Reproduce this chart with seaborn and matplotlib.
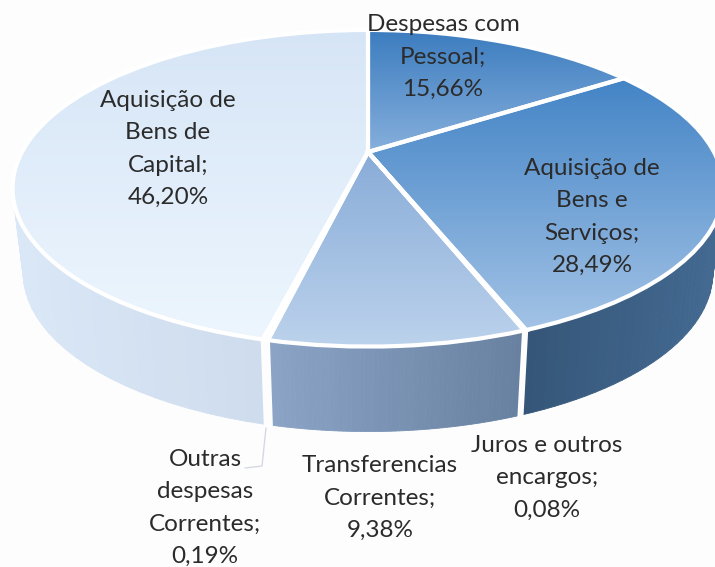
import numpy as np
import matplotlib
matplotlib.use("Agg")
import matplotlib.pyplot as plt
from matplotlib.transforms import Transform
import seaborn as sns

# Dados
categorias = ["Despesas com\nPessoal", "Aquisição de\nBens e\nServiços", "Juros e outros\nencargos",
              "Transferencias\nCorrentes", "Outras\ndespesas\nCorrentes", "Aquisição de\nBens de\nCapital"]
valores = [15.66, 28.49, 0.08, 9.38, 0.19, 46.20]

# Cores: topo (cima, baixo) e parede (esquerda, direita)
cores_topo = [("#3b7cbf", "#86afdc"), ("#4384c6", "#a3c3e6"), ("#9dbde2", "#9dbde2"),
              ("#88acd8", "#bcd2ec"), ("#f0f6fd", "#f0f6fd"), ("#d6e5f6", "#edf6fe")]
cores_parede = [("#3f6a9c", "#3f6a9c"), ("#355678", "#446a92"), ("#fdfdfe", "#fdfdfe"),
                ("#8ba4c6", "#67809f"), ("#fdfdfe", "#fdfdfe"), ("#dae7f7", "#c8d6e8")]
pos_rotulos = [(443, 57), (592, 217), (547, 478), (380, 498), (205, 508), (168, 149)]

# Centro e perspectiva da pizza em pixels
CX, CY, RX, RY, G = 368, 152, 346, 150, 0.229
ALTURA = 85
ESCALA_BASE = 0.97
FUNDO = "#fdfdfe"


class Perspectiva(Transform):
    input_dims = 2
    output_dims = 2

    def transform_non_affine(self, values):
        values = np.asarray(values)
        w = 1 + G * values[:, 1]
        return np.column_stack([CX + RX * values[:, 0] / w, CY - RY * values[:, 1] / w])


def borda(ang):
    u, v = np.cos(ang), np.sin(ang)
    w = 1 + G * v
    return CX + RX * u / w, CY - RY * v / w


sns.set_theme(style="white")
plt.rcParams["font.family"] = ["Lato", "DejaVu Sans"]

fig, ax = plt.subplots(figsize=(7.15, 5.67), dpi=100)
fig.subplots_adjust(0, 0, 1, 1)
fig.patch.set_facecolor(FUNDO)

persp = Perspectiva() + ax.transData

# Parede lateral, fatia a fatia
limites = 90 - 360 * np.concatenate([[0], np.cumsum(valores)]) / 100
for i in range(len(valores)):
    angs = np.radians(np.linspace(limites[i], limites[i + 1], 60))
    xt, yt = borda(angs)
    xb = CX + (xt - CX) * ESCALA_BASE
    yb = yt + ALTURA
    xmin, xmax = xt.min(), xt.max()
    paleta = sns.blend_palette(cores_parede[i], 40)
    for j in range(len(angs) - 1):
        t = ((xt[j] + xt[j + 1]) / 2 - xmin) / max(xmax - xmin, 1)
        cor = paleta[int(t * 39)]
        ax.fill([xt[j], xt[j + 1], xb[j + 1], xb[j]], [yt[j], yt[j + 1], yb[j + 1], yb[j]],
                color=cor, lw=0.6, zorder=1)

# Separadores da parede
for lim in limites[:-1]:
    a = np.radians(lim)
    xt, yt = borda(a)
    if np.sin(a) < 0:
        ax.plot([xt, CX + (xt - CX) * ESCALA_BASE], [yt, yt + ALTURA + 2], color=FUNDO, lw=3, zorder=2)

# Superficie da pizza com gradiente vertical
fatias, _ = ax.pie(valores, startangle=90, counterclock=False, radius=1)
for i, fatia in enumerate(fatias):
    fatia.set_transform(persp)
    fatia.set_visible(False)
    cmap = sns.blend_palette(cores_topo[i], as_cmap=True)
    xs, ys = borda(np.radians(np.linspace(limites[i], limites[i + 1], 60)))
    y0, y1 = min(ys.min(), CY), max(ys.max(), CY)
    im = ax.imshow(np.linspace(0, 1, 256)[:, None], cmap=cmap, aspect="auto", zorder=3,
                   extent=(0, 715, y1, y0))
    im.set_clip_path(fatia)

# Contorno branco das fatias
contornos, _ = ax.pie(valores, startangle=90, counterclock=False, radius=1,
                      wedgeprops=dict(facecolor="none", edgecolor="white", linewidth=3))
for c in contornos:
    c.set_transform(persp)
    c.set_zorder(4)

# Linha de chamada de Outras despesas
ax.plot([266, 262, 245], [428, 466, 468], color="#d5dae0", lw=1, zorder=2)

# Rotulos
for nome, v, (x, y) in zip(categorias, valores, pos_rotulos):
    txt = f"{nome};\n{v:.2f}%".replace(".", ",")
    ax.text(x, y, txt, ha="center", va="center", fontsize=17.5, linespacing=1.66,
            color="#2b2b2b", zorder=5)

ax.set_aspect("auto")
ax.set_xlim(0, 715)
ax.set_ylim(567, 0)
ax.axis("off")

fig.savefig("out.png", dpi=100, facecolor=fig.get_facecolor())
